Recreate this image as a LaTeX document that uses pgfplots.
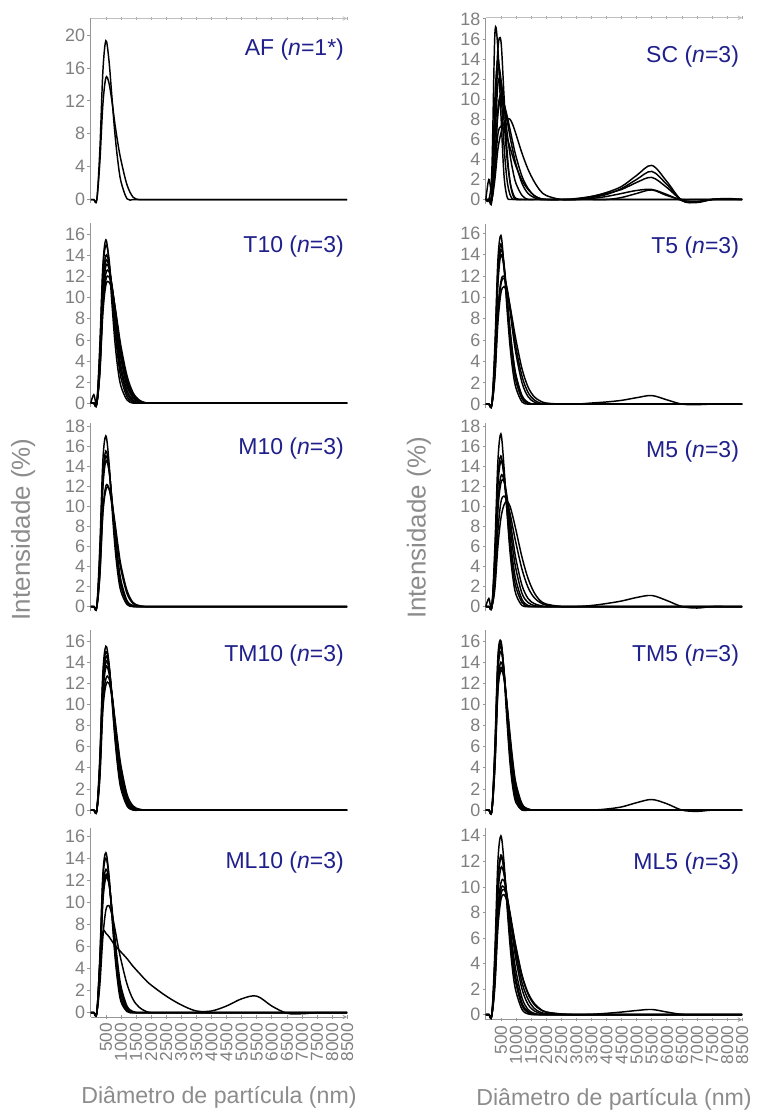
\documentclass[border=0pt]{standalone}
\usepackage{fontspec}
\setmainfont{Liberation Sans}
\usepackage{pgfplots}
\pgfplotsset{compat=1.18}
\usepackage{pgfplotstable}

\definecolor{tickgray}{RGB}{128,128,128}
\definecolor{labgray}{RGB}{140,140,140}
\definecolor{axgray}{RGB}{150,150,150}
\definecolor{titleblue}{RGB}{32,32,140}

% intensity (%) vs diameter (nm), one table per panel
\pgfplotstableread{
x c1 c2
0 0 0
100 0 0
200 0 0
300 6.0 4.5
400 15.5 11.5
500 19.3 14.8
600 17.0 14.2
700 12.5 12.0
800 8.0 9.2
900 4.6 6.8
1000 2.2 4.8
1200 0.1 1.8
1400 0 0.3
1600 0 0
1800 0 0
2000 0 0
2500 0 0
3000 0 0
3500 0 0
4000 0 0
4500 0 0
5000 0 0
5500 0 0
6000 0 0
6500 0 0
7000 0 0
7500 0 0
8000 0 0
8500 0 0
}\dataAF

\pgfplotstableread{
x c1 c2 c3 c4 c5 c6 c7 c8
0 0 0 0 0 0 0 0 0
100 0 0 0 0.8 0 0 0 0
200 0 0 0 0 0 0 0 0
300 5.5 4.8 4.2 4.0 3.6 3.2 3.0 2.8
400 13.0 12.5 11.5 11.0 10.2 9.6 9.0 8.5
500 15.5 15.0 14.0 13.5 13.0 12.3 11.7 11.2
600 13.5 13.8 13.3 13.0 12.8 12.5 12.0 11.5
700 9.5 10.5 10.8 11.0 11.2 11.2 11.0 10.8
800 5.8 7.0 7.8 8.3 8.8 9.0 9.2 9.2
900 3.2 4.3 5.0 5.6 6.3 6.6 7.0 7.3
1000 1.6 2.4 3.0 3.5 4.2 4.5 5.0 5.4
1200 0.3 0.6 0.9 1.2 1.6 1.9 2.2 2.6
1400 0 0.1 0.2 0.3 0.5 0.6 0.8 1.0
1600 0 0 0 0 0.1 0.1 0.2 0.3
1800 0 0 0 0 0 0 0 0.05
2000 0 0 0 0 0 0 0 0
2500 0 0 0 0 0 0 0 0
3000 0 0 0 0 0 0 0 0
3500 0 0 0 0 0 0 0 0
4000 0 0 0 0 0 0 0 0
4500 0 0 0 0 0 0 0 0
5000 0 0 0 0 0 0 0 0
5500 0 0 0 0 0 0 0 0
6000 0 0 0 0 0 0 0 0
6500 0 0 0 0 0 0 0 0
7000 0 0 0 0 0 0 0 0
7500 0 0 0 0 0 0 0 0
8000 0 0 0 0 0 0 0 0
8500 0 0 0 0 0 0 0 0
}\dataTten

\pgfplotstableread{
x c1 c2 c3 c4 c5 c6
0 0 0 0 0 0 0
100 0 0 0 0 0 0
200 0 0 0 0 0 0
300 6.0 5.0 4.6 4.2 3.2 3.0
400 14.5 13.0 12.4 11.8 9.5 9.2
500 17.0 15.5 15.0 14.5 12.0 11.6
600 14.5 14.0 13.8 13.6 11.8 11.8
700 10.0 10.5 10.6 10.8 10.2 10.4
800 6.0 6.8 7.1 7.5 8.0 8.4
900 3.2 3.9 4.3 4.7 5.7 6.1
1000 1.5 2.0 2.3 2.6 3.7 4.1
1200 0.2 0.4 0.5 0.6 1.3 1.6
1400 0 0 0.05 0.1 0.3 0.4
1600 0 0 0 0 0.05 0.1
1800 0 0 0 0 0 0
2000 0 0 0 0 0 0
2500 0 0 0 0 0 0
3000 0 0 0 0 0 0
3500 0 0 0 0 0 0
4000 0 0 0 0 0 0
4500 0 0 0 0 0 0
5000 0 0 0 0 0 0
5500 0 0 0 0 0 0
6000 0 0 0 0 0 0
6500 0 0 0 0 0 0
7000 0 0 0 0 0 0
7500 0 0 0 0 0 0
8000 0 0 0 0 0 0
8500 0 0 0 0 0 0
}\dataMten

\pgfplotstableread{
x c1 c2 c3 c4 c5 c6 c7
0 0 0 0 0 0 0 0
100 0 0 0 0 0 0 0
200 0 0 0 0 0 0 0
300 5.0 4.6 4.2 4.0 3.3 3.0 3.8
400 13.0 12.4 11.8 11.3 10.0 9.4 10.8
500 15.5 15.0 14.5 14.0 12.4 11.8 13.5
600 14.0 13.8 13.7 13.4 12.5 12.0 13.0
700 10.5 10.6 11.0 11.0 11.0 10.8 10.9
800 6.8 7.1 7.8 8.0 8.5 8.6 8.2
900 3.9 4.3 5.0 5.2 6.0 6.3 5.6
1000 2.0 2.3 2.8 3.1 3.9 4.2 3.5
1200 0.4 0.5 0.7 0.8 1.3 1.5 1.0
1400 0 0.05 0.1 0.15 0.3 0.4 0.2
1600 0 0 0 0 0.05 0.1 0
1800 0 0 0 0 0 0 0
2000 0 0 0 0 0 0 0
2500 0 0 0 0 0 0 0
3000 0 0 0 0 0 0 0
3500 0 0 0 0 0 0 0
4000 0 0 0 0 0 0 0
4500 0 0 0 0 0 0 0
5000 0 0 0 0 0 0 0
5500 0 0 0 0 0 0 0
6000 0 0 0 0 0 0 0
6500 0 0 0 0 0 0 0
7000 0 0 0 0 0 0 0
7500 0 0 0 0 0 0 0
8000 0 0 0 0 0 0 0
8500 0 0 0 0 0 0 0
}\dataTMten

\pgfplotstableread{
x c1 c2 c3 c4 c5 c6 c7
0 0 0 0 0 0 0 0
100 0 0 0 0 0 0 0
200 0 0 0 0 0 0 0
300 5.0 4.6 4.2 3.8 3.6 2.5 4.5
400 12.5 12.0 11.0 10.4 10.0 6.8 7.3
500 14.5 14.0 13.0 12.5 12.2 9.3 7.2
600 12.5 12.4 12.0 11.8 11.7 9.7 6.9
700 8.8 9.0 9.2 9.3 9.5 8.9 6.5
800 5.2 5.6 6.1 6.4 6.8 7.6 6.1
900 2.6 3.0 3.5 3.9 4.3 6.1 5.8
1000 1.0 1.3 1.7 2.0 2.4 4.8 5.5
1200 0.1 0.15 0.3 0.4 0.6 2.6 4.9
1400 0 0 0 0.05 0.1 1.2 4.2
1600 0 0 0 0 0 0.5 3.6
1800 0 0 0 0 0 0.15 3.0
2000 0 0 0 0 0 0 2.5
2500 0 0 0 0 0 0 1.5
3000 0 0 0 0 0 0 0.7
3500 0 0 0 0 0 0 0.15
4000 0 0 0 0 0 0 0.15
4500 0 0 0 0 0 0 0.6
5000 0 0 0 0 0 0 1.25
5500 0 0 0 0 0 0 1.5
6000 0 0 0 0 0 0 0.6
6500 0 0 0 0 0 0 -0.05
7000 0 0 0 0 0 0 -0.1
7500 0 0 0 0 0 0 0
8000 0 0 0 0 0 0 0
8500 0 0 0 0 0 0 0
}\dataMLten

\pgfplotstableread{
x c1 c2 c3 c4 c5 c6 c7 c8 c9
0 0 0 0 0 0 0 0 0 0
100 0 0 0 0 2.0 0 0 0 0
200 3.0 0 1.0 0.5 1.0 0 0 0 0
300 16.5 8.0 10.0 8.0 6.0 4.0 3.5 2.0 3.0
400 15.0 15.0 14.0 13.0 11.5 9.0 8.5 5.0 6.5
500 8.5 15.8 11.0 12.0 11.8 10.5 10.0 6.6 7.3
600 2.5 10.5 5.5 8.0 9.5 9.6 9.5 7.6 7.0
700 0.3 5.0 2.0 4.2 6.8 8.0 8.4 8.0 6.2
800 0 1.8 0.5 1.8 4.5 6.3 7.0 8.0 5.2
900 0 0.4 0 0.6 2.8 4.8 5.6 7.4 4.2
1000 0 0 0 0.1 1.6 3.5 4.3 6.5 3.3
1200 0 0 0 0 0.4 1.6 2.3 4.6 1.9
1400 0 0 0 0 0 0.6 1.1 3.0 1.0
1600 0 0 0 0 0 0.2 0.4 1.8 0.4
1800 0 0 0 0 0 0 0.1 0.9 0.1
2000 0 0 0 0 0 0 0 0.4 0
2500 0 0 0 0 0 0 0 0 0
3000 0 0 0 0 0 0.05 0 0.1 0
3500 0 0 0 0 0.1 0.3 0.2 0.3 0
4000 0 0 0 0 0.3 0.7 0.5 0.6 0
4500 0 0 0 0 0.6 1.3 1.1 1.0 0.2
5000 0 0 0 0 0.9 2.4 2.0 1.7 0.6
5500 0 0 0 0 1.0 3.4 2.8 2.2 0.95
6000 0 0 0 0 0.5 1.8 1.5 1.2 0.4
6500 0 0 0 0 -0.1 -0.1 -0.1 -0.05 0
7000 0 0 0 0 -0.2 -0.3 -0.25 -0.2 0
7500 0 0 0 0 0 0 0 0 0
8000 0 0 0 0 0.05 0.1 0 0 0
8500 0 0 0 0 0 0 0 0 0
}\dataSC

\pgfplotstableread{
x c1 c2 c3 c4 c5 c6 c7
0 0 0 0 0 0 0 0
100 0 0 0 0 0 0 0
200 0 0 0 0 0 0 0
300 5.5 4.8 4.3 3.0 2.8 2.5 4.0
400 13.5 12.5 11.8 8.8 8.4 7.6 11.2
500 15.8 15.0 14.5 11.5 11.2 10.4 14.0
600 13.0 13.0 13.2 12.0 11.8 11.0 12.8
700 9.0 9.6 10.2 10.8 10.9 10.5 10.0
800 5.5 6.3 7.0 8.8 9.2 9.2 7.0
900 3.0 3.8 4.4 6.6 7.2 7.6 4.5
1000 1.5 2.1 2.6 4.7 5.3 6.0 2.7
1200 0.2 0.5 0.7 2.0 2.6 3.3 0.8
1400 0 0.05 0.1 0.7 1.1 1.6 0.15
1600 0 0 0 0.2 0.4 0.7 0
1800 0 0 0 0 0.1 0.3 0
2000 0 0 0 0 0 0.1 0
2500 0 0 0 0 0 0 0
3000 0 0 0 0 0 0 0
3500 0 0 0 0 0 0.1 0
4000 0 0 0 0 0 0.2 0
4500 0 0 0 0 0 0.35 0
5000 0 0 0 0 0 0.6 0
5500 0 0 0 0 0 0.8 0
6000 0 0 0 0 0 0.4 0
6500 0 0 0 0 0 0 0
7000 0 0 0 0 0 -0.05 0
7500 0 0 0 0 0 0 0
8000 0 0 0 0 0 0 0
8500 0 0 0 0 0 0 0
}\dataTfive

\pgfplotstableread{
x c1 c2 c3 c4 c5 c6 c7
0 0 0 0 0 0 0 0
100 0.8 0 0 0 0 0 0
200 0 0 0 0 0 0 0
300 6.0 5.0 4.5 3.6 3.2 2.3 1.8
400 14.5 12.8 12.0 10.3 9.6 7.5 6.0
500 17.2 15.0 14.5 13.0 12.3 10.4 8.8
600 14.0 13.0 13.2 12.6 12.5 11.0 10.1
700 9.5 9.6 10.2 10.6 11.0 10.5 10.5
800 5.5 6.2 7.0 8.0 8.8 9.3 10.0
900 2.8 3.6 4.4 5.6 6.6 7.8 8.9
1000 1.2 1.9 2.6 3.7 4.7 6.3 7.6
1200 0.1 0.4 0.7 1.3 2.1 3.7 4.9
1400 0 0 0.1 0.4 0.8 1.9 2.8
1600 0 0 0 0.1 0.3 0.9 1.4
1800 0 0 0 0 0.1 0.4 0.6
2000 0 0 0 0 0 0.15 0.25
2500 0 0 0 0 0 0 0
3000 0 0 0 0 0 0 0
3500 0 0 0 0 0 0.1 0
4000 0 0 0 0 0 0.3 0
4500 0 0 0 0 0 0.55 0
5000 0 0 0 0 0 0.9 0
5500 0 0 0 0 0 1.1 0
6000 0 0 0 0 0 0.6 0
6500 0 0 0 0 0 0 0
7000 0 0 0 0 0 -0.15 0
7500 0 0 0 0 0 0 0
8000 0 0 0 0 0 0 0
8500 0 0 0 0 0 0 0
}\dataMfive

\pgfplotstableread{
x c1 c2 c3 c4 c5 c6 c7
0 0 0 0 0 0 0 0
100 0 0 0 0 0 0 0
200 0 0 0 0 0 0 0
300 6.0 5.6 5.3 5.0 4.5 4.2 4.0
400 14.5 14.0 13.6 13.0 12.0 11.5 11.2
500 16.0 15.8 15.5 15.0 14.0 13.5 13.2
600 13.0 13.2 13.3 13.2 12.8 12.6 12.5
700 8.5 9.0 9.4 9.7 9.8 10.0 10.1
800 4.5 5.0 5.6 6.0 6.5 6.9 7.2
900 2.0 2.4 2.9 3.3 3.8 4.2 4.5
1000 0.7 1.0 1.3 1.6 2.0 2.3 2.5
1200 0 0.1 0.15 0.25 0.4 0.5 0.6
1400 0 0 0 0 0.05 0.1 0.1
1600 0 0 0 0 0 0 0
1800 0 0 0 0 0 0 0
2000 0 0 0 0 0 0 0
2500 0 0 0 0 0 0 0
3000 0 0 0 0 0 0 0
3500 0 0 0 0 0 0 0
4000 0 0 0 0 0 0.1 0
4500 0 0 0 0 0 0.3 0
5000 0 0 0 0 0 0.7 0
5500 0 0 0 0 0 1.0 0
6000 0 0 0 0 0 0.6 0
6500 0 0 0 0 0 0 0
7000 0 0 0 0 0 -0.12 0
7500 0 0 0 0 0 0 0
8000 0 0 0 0 0 0 0
8500 0 0 0 0 0 0 0
}\dataTMfive

\pgfplotstableread{
x c1 c2 c3 c4 c5 c6 c7 c8
0 0 0 0 0 0 0 0 0
100 0 0 0 0 0 0 0 0
200 0 0 0 0 0 0 0 0
300 5.0 4.2 4.0 3.5 3.0 2.8 2.5 2.2
400 12.0 10.5 10.2 9.3 8.2 7.7 7.2 6.8
500 14.0 12.5 12.3 11.5 10.3 9.8 9.4 9.0
600 12.0 11.4 11.4 11.0 10.5 10.0 9.8 9.4
700 8.6 8.8 9.2 9.2 9.4 9.2 9.2 8.9
800 5.5 6.1 6.6 7.0 7.7 7.8 8.0 7.8
900 3.2 3.9 4.4 5.0 5.9 6.2 6.6 6.5
1000 1.8 2.4 2.8 3.4 4.3 4.8 5.3 5.2
1200 0.4 0.7 0.9 1.3 2.0 2.5 3.1 3.0
1400 0.05 0.15 0.25 0.4 0.8 1.2 1.7 1.6
1600 0 0 0.05 0.1 0.3 0.5 0.9 0.8
1800 0 0 0 0 0.1 0.2 0.45 0.4
2000 0 0 0 0 0 0.08 0.2 0.2
2500 0 0 0 0 0 0 0.03 0.05
3000 0 0 0 0 0 0 0 0
3500 0 0 0 0 0 0 0.02 0
4000 0 0 0 0 0 0 0.1 0
4500 0 0 0 0 0 0 0.2 0
5000 0 0 0 0 0 0 0.32 0
5500 0 0 0 0 0 0 0.4 0
6000 0 0 0 0 0 0 0.2 0
6500 0 0 0 0 0 0 0.02 0
7000 0 0 0 0 0 0 0 0
7500 0 0 0 0 0 0 0 0
8000 0 0 0 0 0 0 0 0
8500 0 0 0 0 0 0 0 0
}\dataMLfive

\pgfplotsset{
  panel/.style={
    scale only axis, width=192.75pt,
    xmin=0, xmax=8500, ymin=-0.4,
    axis y line=left,
    axis line style={draw=axgray, line width=0.6pt, -},
    tick align=outside, major tick length=2.5pt,
    tick style={draw=axgray, line width=0.5pt},
    yticklabel style={font=\fontsize{13.5}{15}\selectfont, text=tickgray, inner sep=1.5pt},
    /pgf/number format/assume math mode=true,
    /pgf/number format/1000 sep={},
    scaled x ticks=false,
    clip=false,
  },
  panelmid/.style={axis x line=none},
  paneltop/.style={axis x line=top, xtick={500,1000,...,8500}, xticklabels={},
    x axis line style={draw=black!25}, x tick style={draw=black!35}},
  panelbot/.style={axis x line=bottom, xtick={500,1000,...,8500},
    xticklabel style={rotate=90, anchor=east, font=\fontsize{13}{15}\selectfont, text=tickgray, inner sep=3pt},
    xlabel={Diâmetro de partícula (nm)},
    xlabel style={font=\fontsize{17.4}{20}\selectfont, text=labgray, yshift=-12pt}},
}
\tikzset{ptitle/.style={anchor=east, inner sep=0pt, text=titleblue, font=\fontsize{17.3}{20}\selectfont}}

\newcommand{\curves}[2]{\pgfplotsinvokeforeach{#2}{\addplot[black, line width=1.1pt, smooth, tension=0.55, mark=none] table[x=x,y=##1] {#1};}}

\begin{document}
\begin{tikzpicture}
\path (0,0) rectangle (565.5pt,-836.25pt);

% left column
\begin{axis}[panel, paneltop, at={(68.25pt,-152.5pt)}, anchor=south west, height=138.6pt, ymax=22, ytick={0,4,...,20}]
\curves{\dataAF}{c1,c2}
\node[ptitle] at (axis cs:8400,18.2) {AF (\textit{n}=1*)};
\end{axis}
\begin{axis}[panel, panelmid, at={(68.25pt,-306.2pt)}, anchor=south west, height=138.6pt, ymax=17.1, ytick={0,2,...,16}]
\curves{\dataTten}{c1,c2,c3,c4,c5,c6,c7,c8}
\node[ptitle] at (axis cs:8400,14.9) {T10 (\textit{n}=3)};
\end{axis}
\begin{axis}[panel, panelmid, at={(68.25pt,-459pt)}, anchor=south west, height=141.1pt, ymax=18.3, ytick={0,2,...,18}]
\curves{\dataMten}{c1,c2,c3,c4,c5,c6}
\node[ptitle] at (axis cs:8400,15.7) {M10 (\textit{n}=3)};
\end{axis}
\begin{axis}[panel, panelmid, at={(68.25pt,-612.2pt)}, anchor=south west, height=138.3pt, ymax=17, ytick={0,2,...,16}]
\curves{\dataTMten}{c1,c2,c3,c4,c5,c6,c7}
\node[ptitle] at (axis cs:8400,14.6) {TM10 (\textit{n}=3)};
\end{axis}
\begin{axis}[panel, panelbot, at={(68.25pt,-764.6pt)}, anchor=south west, height=141.8pt, ymax=16.7, ytick={0,2,...,16}]
\curves{\dataMLten}{c1,c2,c3,c4,c5,c6,c7}
\node[ptitle] at (axis cs:8400,13.6) {ML10 (\textit{n}=3)};
\end{axis}

% right column
\begin{axis}[panel, paneltop, at={(365.25pt,-153pt)}, anchor=south west, height=139.6pt, ymax=18.1, ytick={0,2,...,18}]
\curves{\dataSC}{c1,c2,c3,c4,c5,c6,c7,c8,c9}
\node[ptitle] at (axis cs:8400,14.2) {SC (\textit{n}=3)};
\end{axis}
\begin{axis}[panel, panelmid, at={(365.25pt,-307pt)}, anchor=south west, height=138.8pt, ymax=16.9, ytick={0,2,...,16}]
\curves{\dataTfive}{c1,c2,c3,c4,c5,c6,c7}
\node[ptitle] at (axis cs:8400,14.7) {T5 (\textit{n}=3)};
\end{axis}
\begin{axis}[panel, panelmid, at={(365.25pt,-459pt)}, anchor=south west, height=141.1pt, ymax=18.3, ytick={0,2,...,18}]
\curves{\dataMfive}{c1,c2,c3,c4,c5,c6,c7}
\node[ptitle] at (axis cs:8400,15.4) {M5 (\textit{n}=3)};
\end{axis}
\begin{axis}[panel, panelmid, at={(365.25pt,-612.2pt)}, anchor=south west, height=138.3pt, ymax=17, ytick={0,2,...,16}]
\curves{\dataTMfive}{c1,c2,c3,c4,c5,c6,c7}
\node[ptitle] at (axis cs:8400,14.6) {TM5 (\textit{n}=3)};
\end{axis}
\begin{axis}[panel, panelbot, at={(365.25pt,-766.6pt)}, anchor=south west, height=144pt, ymax=14.6, ytick={0,2,...,14}]
\curves{\dataMLfive}{c1,c2,c3,c4,c5,c6,c7,c8}
\node[ptitle] at (axis cs:8400,11.8) {ML5 (\textit{n}=3)};
\end{axis}

% shared y labels
\node[rotate=90, text=labgray, font=\fontsize{19.5}{22}\selectfont] at (17.5pt,-398pt) {Intensidade (\%)};
\node[rotate=90, text=labgray, font=\fontsize{19.5}{22}\selectfont] at (315pt,-397pt) {Intensidade (\%)};
\end{tikzpicture}
\end{document}
